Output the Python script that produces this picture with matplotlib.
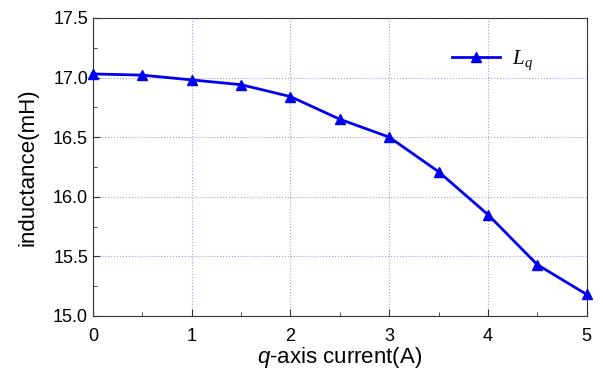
import matplotlib
matplotlib.use('Agg')
import matplotlib.pyplot as plt
from matplotlib.ticker import MultipleLocator, FormatStrFormatter

plt.rcParams['font.family'] = ['Liberation Sans', 'DejaVu Sans']
plt.rcParams['mathtext.fontset'] = 'custom'
plt.rcParams['mathtext.rm'] = 'Liberation Sans'
plt.rcParams['mathtext.it'] = 'Liberation Sans:italic'
plt.rcParams['mathtext.cal'] = 'Liberation Serif:italic'

# q-axis current (A) and inductance Lq (mH)
current = [0, 0.5, 1, 1.5, 2, 2.5, 3, 3.5, 4, 4.5, 5]
lq = [17.03, 17.02, 16.98, 16.94, 16.84, 16.65, 16.50, 16.21, 15.85, 15.43, 15.18]

fig = plt.figure(figsize=(6.03, 3.73), dpi=100)
ax = fig.add_axes([0.154, 0.153, 0.819, 0.799])

ax.plot(current, lq, color='#0000ee', linewidth=2, marker='^',
        markersize=7, label=r'$\mathcal{L}_{\mathcal{q}}$', clip_on=False, zorder=5)

ax.set_xlim(0, 5)
ax.set_ylim(15.0, 17.5)
ax.xaxis.set_major_locator(MultipleLocator(1))
ax.xaxis.set_minor_locator(MultipleLocator(0.5))
ax.yaxis.set_major_locator(MultipleLocator(0.5))
ax.yaxis.set_minor_locator(MultipleLocator(0.25))
ax.yaxis.set_major_formatter(FormatStrFormatter('%.1f'))
ax.tick_params(which='both', direction='in', labelsize=13, color='#333333')
ax.tick_params(which='major', length=5)
ax.tick_params(which='minor', length=3)
ax.tick_params(axis='x', pad=9)

ax.grid(True, linestyle=':', color='#8888dd', linewidth=0.8, alpha=0.8)
for s in ax.spines.values():
    s.set_color('#333333')

ax.set_xlabel('$q$-axis current(A)', fontsize=16, labelpad=0)
ax.set_ylabel('inductance(mH)', fontsize=16, labelpad=10)

leg = ax.legend(loc='upper right', bbox_to_anchor=(0.93, 0.96), frameon=False,
                fontsize=15, handlelength=2.3, handletextpad=0.6)

fig.savefig('out.png', dpi=100)
